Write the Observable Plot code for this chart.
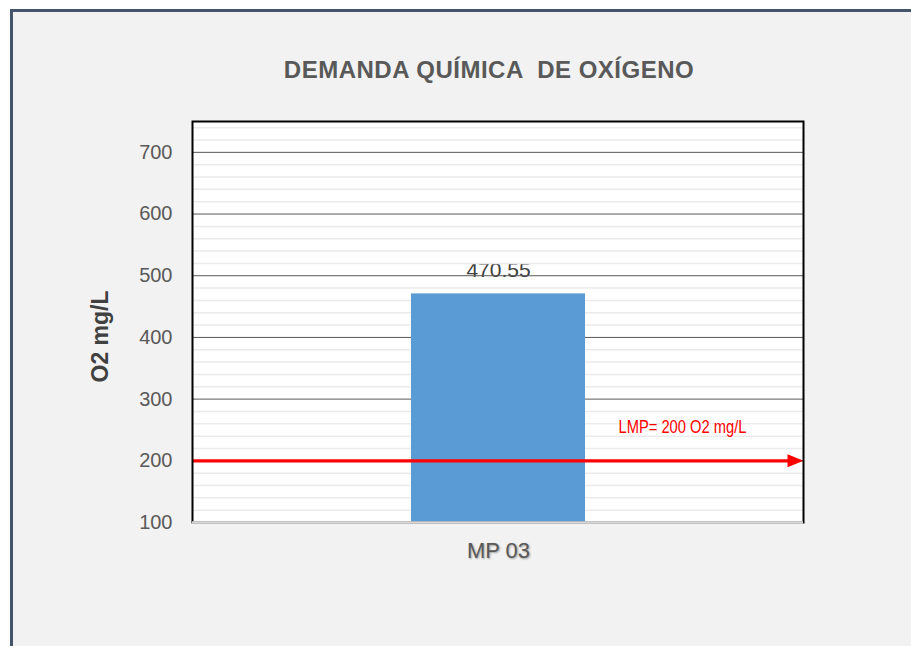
<!DOCTYPE html>
<html>
<head>
<meta charset="utf-8">
<script src="https://cdn.jsdelivr.net/npm/d3@7"></script>
<script src="https://cdn.jsdelivr.net/npm/@observablehq/plot@0.6"></script>
<style>
  html, body { margin: 0; padding: 0; background: #ffffff; }
  #wrap { position: relative; width: 911px; height: 646px; overflow: hidden; }
  #panel { position: absolute; left: 10px; top: 9px; width: 901px; height: 637px; box-sizing: border-box;
           background: #f2f2f2; border-left: 3px solid #44546a; border-top: 3px solid #44546a; }
  #title { position: absolute; left: 89px; width: 800px; top: 58px; text-align: center; white-space: pre;
           font: bold 24px "Liberation Sans", Arial, sans-serif; line-height: 24px; letter-spacing: 0.5px; color: #595959; }
  #chart { position: absolute; left: 0; top: 0; }
  #chart svg { overflow: visible; }
  g[aria-label="x-axis tick label"] text { text-shadow: 1px 1px 2px rgba(0,0,0,0.35); }
</style>
</head>
<body>
<div id="wrap">
  <div id="panel"></div>
  <div id="title"></div>
  <div id="chart"></div>
</div>
<script>
// ---- data ----
const chartTitle = "DEMANDA QUÍMICA  DE OXÍGENO";
const categories = ["MP 03"];
const values = [470.55];
const yTicks = [100, 200, 300, 400, 500, 600, 700];
const yMinorTicks = [120, 140, 160, 180, 220, 240, 260, 280, 320, 340, 360, 380, 420, 440, 460, 480,
                     520, 540, 560, 580, 620, 640, 660, 680, 720, 740];
const yDomain = [100, 750];
const yLabel = "O2 mg/L";
const limitValue = 200;
const limitLabel = "LMP= 200 O2 mg/L";

// table for the marks
const rows = categories.map((c, i) => ({category: c, value: values[i]}));

document.getElementById("title").textContent = chartTitle;

// filled arrowhead symbol (shape only; placed by Plot)
const arrowHead = {
  draw(ctx, size) {
    const s = Math.sqrt(size);
    ctx.moveTo(s * 0.5, 0);
    ctx.lineTo(-s * 0.5, -s * 0.41);
    ctx.lineTo(-s * 0.5, s * 0.41);
    ctx.closePath();
  }
};

const chart = Plot.plot({
  width: 911,
  height: 646,
  marginLeft: 192,
  marginRight: 108,
  marginTop: 121,
  marginBottom: 124,
  style: {background: "transparent", fontFamily: "'Liberation Sans', Arial, sans-serif"},
  x: {type: "band", domain: categories, padding: 0.557, axis: null},
  y: {domain: yDomain, axis: null},
  marks: [
    Plot.frame({fill: "#ffffff"}),
    Plot.text(rows, {x: "category", y: "value", text: d => d3.format(".2f")(d.value),
      dy: -23.5, fontSize: 21, fill: "#404040"}),
    Plot.ruleY(yMinorTicks, {stroke: "#ebebeb", strokeWidth: 1.5}),
    Plot.ruleY(yTicks.filter(v => v > yDomain[0]), {stroke: "#595959", strokeWidth: 1}),
    Plot.barY(rows, {x: "category", y1: () => yDomain[0], y2: "value", fill: "#5b9bd5"}),
    Plot.ruleY([limitValue], {stroke: "#ff0000", strokeWidth: 3.3, insetRight: 12}),
    Plot.dot([limitValue], {y: d => d, frameAnchor: "right", dx: -8, r: 9, symbol: arrowHead,
      fill: "#ff0000", stroke: null}),
    Plot.text([limitLabel], {text: d => d, y: () => limitValue, frameAnchor: "right", dx: -185, dy: -33.5,
      textAnchor: "start", fill: "#ff0000", fontSize: 18,
      fontFamily: "'Liberation Sans Narrow', 'Arial Narrow', 'Liberation Sans', sans-serif"}),
    Plot.frame({stroke: "#000000", strokeWidth: 2}),
    Plot.ruleY([yDomain[0]], {stroke: "#d9d9d9", strokeWidth: 2.5}),
    Plot.axisY(yTicks, {tickSize: 0, tickPadding: 20, fontSize: 20, fill: "#595959", label: null}),
    Plot.axisX({tickSize: 0, tickPadding: 20, fontSize: 22, fill: "#595959", label: null}),
    Plot.text([yLabel], {text: d => d, frameAnchor: "left", textAnchor: "middle", rotate: -90, dx: -92, dy: 14.5,
      fontSize: 23, fontWeight: "bold", fill: "#404040"})
  ]
});

// condense the limit label like the narrow font of the original
chart.querySelectorAll("text").forEach(t => {
  if (t.textContent === limitLabel) {
    t.setAttribute("textLength", 128);
    t.setAttribute("lengthAdjust", "spacingAndGlyphs");
  }
});

document.getElementById("chart").appendChild(chart);
</script>
</body>
</html>
